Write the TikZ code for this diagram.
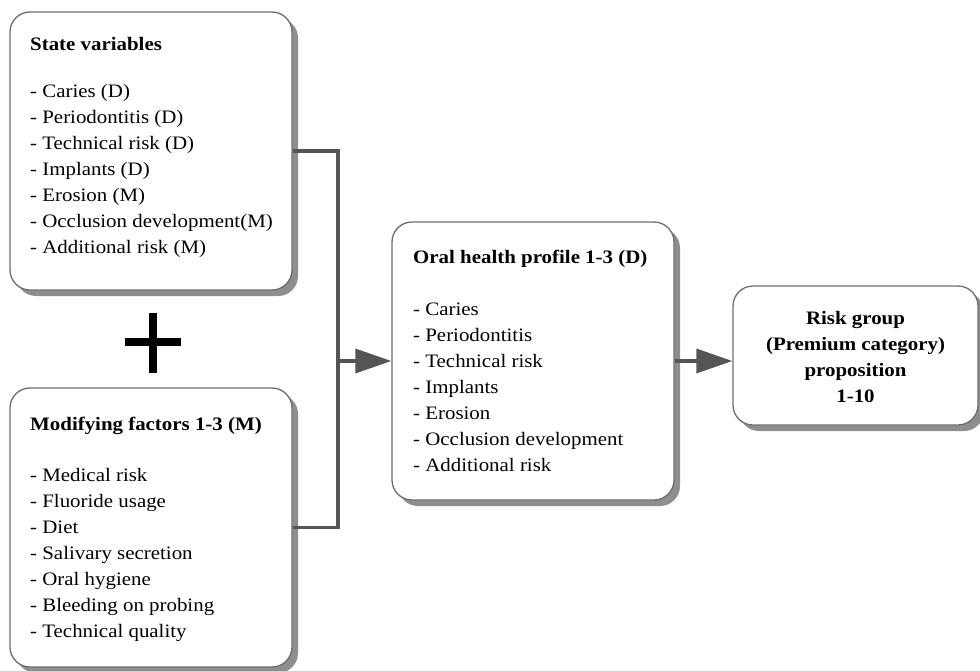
\documentclass[tikz,border=0pt]{standalone}
\usepackage{fontspec}
\setmainfont{Liberation Serif}[FakeStretch=1.1]
\usetikzlibrary{arrows.meta,shadows}
\definecolor{boxgray}{HTML}{6E6E6E}
\definecolor{shadowgray}{HTML}{8E8E8E}
\definecolor{conngray}{HTML}{555555}
\begin{document}
\begin{tikzpicture}[x=1pt,y=-1pt,
  box/.style={draw=boxgray, line width=1.3pt, rounded corners=20pt, fill=white,
    drop shadow={shadow xshift=6pt, shadow yshift=-6pt, fill=shadowgray, opacity=1},
    inner sep=0pt},
  txt/.style={font=\fontsize{19}{26}\selectfont, align=left, inner sep=0pt, anchor=base west},
  conn/.style={draw=conngray, line width=3.5pt},
  tip/.style={-{Triangle[length=36pt,width=24pt]}}]
\useasboundingbox (0,0) rectangle (980,670);

\node[box, minimum width=282pt, minimum height=278pt] (b1) at (151,151) {};
\node[box, minimum width=282pt, minimum height=279pt] (b2) at (151,527.5) {};
\node[box, minimum width=282pt, minimum height=278pt] (b3) at (533,361) {};
\node[box, minimum width=245pt, minimum height=139pt] (b4) at (855.5,355.5) {};

% text nodes: anchored at the baseline of their last line
\node[txt] (t1) at (30,253.7) {\textbf{State variables}\\[21.7pt]
- Caries (D)\\
- Periodontitis (D)\\
- Technical risk (D)\\
- Implants (D)\\
- Erosion (M)\\
- Occlusion development(M)\\
- Additional risk (M)};

\node[txt] (t2) at (30,637.7) {\textbf{Modifying factors 1-3 (M)}\\[25.7pt]
- Medical risk\\
- Fluoride usage\\
- Diet\\
- Salivary secretion\\
- Oral hygiene\\
- Bleeding on probing\\
- Technical quality};

\node[txt] (t3) at (413,471.7) {\textbf{Oral health profile 1-3 (D)}\\[26.4pt]
- Caries\\
- Periodontitis\\
- Technical risk\\
- Implants\\
- Erosion\\
- Occlusion development\\
- Additional risk};

\node[txt, align=center, anchor=base, font=\fontsize{19}{26}\selectfont\bfseries] (t4) at (855.5,402)
  {Risk group\\(Premium category)\\proposition\\1-10};

% plus sign
\draw[line width=8pt] (125,342) -- (181,342);
\draw[line width=8pt] (153,313) -- (153,373);

% connectors
\coordinate (j) at (338,361);
\draw[conn] (b1.east) -| (j) |- (b2.east);
\draw[conn, tip] (j) -- (b3.west);
\draw[conn, tip] (b3.east) -- (b3.east -| b4.west);
\end{tikzpicture}
\end{document}
